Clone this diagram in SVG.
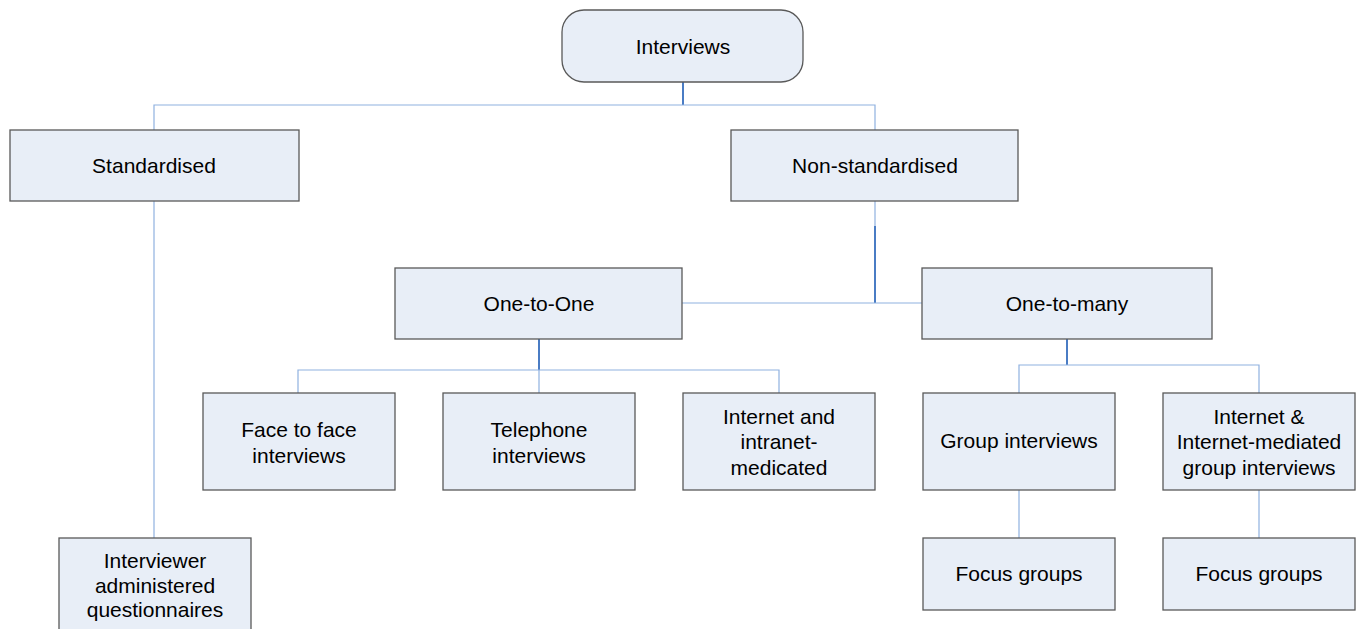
<svg xmlns="http://www.w3.org/2000/svg" width="1361" height="629" viewBox="0 0 1361 629">
<style>
.box{fill:#E8EEF7;stroke:#595959;stroke-width:1.3}
.t{font-family:"Liberation Sans",Arial,sans-serif;font-size:21px;fill:#000;text-anchor:middle}
.lt{fill:none;stroke:#8FB1E0;stroke-width:1.2}
.dk{fill:none;stroke:#4A7CC4;stroke-width:2}
</style>
<rect width="1361" height="629" fill="#fff"/>
<g id="connectors">
<path class="dk" d="M683 82V105"/>
<path class="lt" d="M154 130V105H875V130"/>
<path class="lt" d="M154 201V538"/>
<path class="lt" d="M875 201V226"/>
<path class="dk" d="M875 226V303"/>
<path class="lt" d="M682 303H922"/>
<path class="dk" d="M539 339V370"/>
<path class="lt" d="M298 393V370H779V393M539 370V393"/>
<path class="dk" d="M1067 339V365"/>
<path class="lt" d="M1019 393V365H1259V393"/>
<path class="lt" d="M1019 490V538M1259 490V538"/>
</g>
<g id="interviews"><rect class="box" x="562" y="10" width="241" height="72" rx="22"/><text class="t" x="683" y="53.5">Interviews</text></g>
<g id="standardised"><rect class="box" x="10" y="130" width="289" height="71"/><text class="t" x="154" y="172.5">Standardised</text></g>
<g id="non-standardised"><rect class="box" x="731" y="130" width="287" height="71"/><text class="t" x="875" y="172.5">Non-standardised</text></g>
<g id="one-to-one"><rect class="box" x="395" y="268" width="287" height="71"/><text class="t" x="539" y="310.5">One-to-One</text></g>
<g id="one-to-many"><rect class="box" x="922" y="268" width="290" height="71"/><text class="t" x="1067" y="310.5">One-to-many</text></g>
<g id="face-to-face"><rect class="box" x="203" y="393" width="192" height="97"/><text class="t" x="299" y="436.5">Face to face</text><text class="t" x="299" y="462.5">interviews</text></g>
<g id="telephone"><rect class="box" x="443" y="393" width="192" height="97"/><text class="t" x="539" y="436.5">Telephone</text><text class="t" x="539" y="462.5">interviews</text></g>
<g id="internet-intranet"><rect class="box" x="683" y="393" width="192" height="97"/><text class="t" x="779" y="423.5">Internet and</text><text class="t" x="779" y="449">intranet-</text><text class="t" x="779" y="474.5">medicated</text></g>
<g id="group-interviews"><rect class="box" x="923" y="393" width="192" height="97"/><text class="t" x="1019" y="447.5">Group interviews</text></g>
<g id="internet-group"><rect class="box" x="1163" y="393" width="192" height="97"/><text class="t" x="1259" y="423.5">Internet &amp;</text><text class="t" x="1259" y="449">Internet-mediated</text><text class="t" x="1259" y="474.5">group interviews</text></g>
<g id="focus-groups-1"><rect class="box" x="923" y="538" width="192" height="72"/><text class="t" x="1019" y="580.5">Focus groups</text></g>
<g id="focus-groups-2"><rect class="box" x="1163" y="538" width="192" height="72"/><text class="t" x="1259" y="580.5">Focus groups</text></g>
<g id="interviewer-administered"><rect class="box" x="59" y="538" width="192" height="102"/><text class="t" x="155" y="567.5">Interviewer</text><text class="t" x="155" y="592.5">administered</text><text class="t" x="155" y="616.5">questionnaires</text></g>
</svg>
